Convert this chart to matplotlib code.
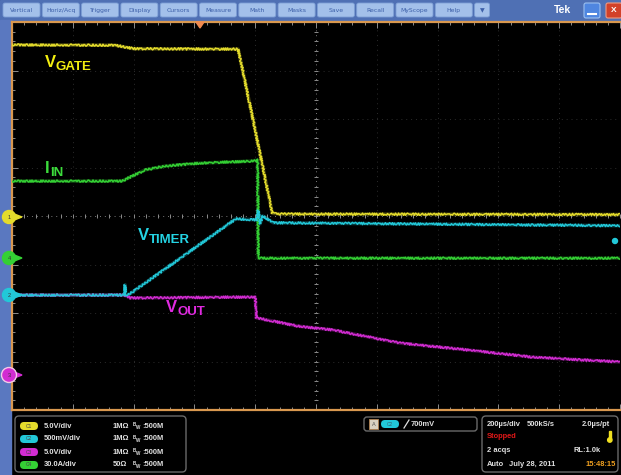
import numpy as np
import matplotlib
matplotlib.use("Agg")
import matplotlib.pyplot as plt
from matplotlib.patches import Rectangle, FancyBboxPatch, Circle, Polygon

# traces: time in divisions (200 us/div), level in divisions from screen centre
gate_t = [0.0, 1.7, 2.0, 3.72, 4.0, 4.28, 4.4, 10.0]
gate_v = [3.53, 3.52, 3.45, 3.44, 1.77, 0.06, 0.04, 0.03]

iin_t = [0.0, 1.81, 1.94, 2.19, 2.52, 3.09, 3.91, 4.04, 4.05, 10.0]
iin_v = [0.72, 0.72, 0.80, 0.95, 1.03, 1.09, 1.13, 1.15, -0.87, -0.87]

timer_t = [0.0, 1.85, 1.86, 1.87, 1.91, 3.68, 4.03, 4.05, 4.08, 4.12, 4.3, 10.0]
timer_v = [-1.63, -1.63, -1.42, -1.63, -1.63, -0.06, -0.08, 0.12, -0.16, 0.0, -0.14, -0.2]

vout_t = [0.0, 1.85, 1.95, 4.0, 4.02, 4.7, 5.28, 6.38, 7.48, 8.56, 10.0]
vout_v = [-1.63, -1.63, -1.69, -1.67, -2.10, -2.27, -2.35, -2.62, -2.76, -2.91, -3.01]

# channel readout
ch_names = ["C1", "C2", "C3", "C4"]
ch_scale = ["5.0V/div", "500mV/div", "5.0V/div", "30.0A/div"]
ch_imp = ["1MΩ", "1MΩ", "1MΩ", "50Ω"]
ch_bw = "500M"
menu = ["Vertical", "Horiz/Acq", "Trigger", "Display", "Cursors", "Measure",
        "Math", "Masks", "Save", "Recall", "MyScope", "Help", "▼"]

YEL, CYN, MAG, GRN = "#e4dc2c", "#22c8d8", "#d22cd2", "#34d034"
ORANGE = "#d9984f"
FONT = "Liberation Sans"

fig = plt.figure(figsize=(6.21, 4.75), dpi=100, facecolor="black")

# background chrome, pixel coordinates
bg = fig.add_axes([0, 0, 1, 1], zorder=0)
bg.set_xlim(0, 621)
bg.set_ylim(475, 0)
bg.axis("off")
bg.set_facecolor("black")
bg.add_patch(Rectangle((0, 0), 621, 20, color="#4f70b4"))
bg.add_patch(Rectangle((0, 20), 11, 455, color="#5a78c0"))

# scope graticule, divisions
ax = fig.add_axes([12 / 621, 65 / 475, 608 / 621, 388 / 475], zorder=2)
ax.set_facecolor("black")
ax.set_xlim(0, 10)
ax.set_ylim(-4, 4)
for s in ["top", "left", "bottom"]:
    ax.spines[s].set_color(ORANGE)
    ax.spines[s].set_linewidth(1.6)
ax.spines["right"].set_visible(False)
ax.set_xticks(np.arange(0, 10.01, 1))
ax.set_xticks(np.arange(0, 10.01, 0.2), minor=True)
ax.set_yticks(np.arange(-4, 4.01, 1))
ax.set_yticks(np.arange(-4, 4.01, 0.2), minor=True)
ax.tick_params(which="both", direction="in", top=True, bottom=True, left=True,
               right=False, labelbottom=False, labelleft=False,
               color="#8c8c8c", width=0.7)
ax.tick_params(which="major", length=4.5)
ax.tick_params(which="minor", length=2.2)

for k in range(1, 10):
    ax.axvline(k, color="#2c2c2c" if k != 5 else "#7a7a7a", lw=0.7,
               ls=(0, (1, 4)), zorder=1)
for k in range(-3, 4):
    ax.axhline(k, color="#2c2c2c" if k != 0 else "#7a7a7a", lw=0.7,
               ls=(0, (1, 4)), zorder=1)
cx = np.arange(0, 10.01, 0.2)
cy = np.arange(-4, 4.01, 0.2)
ax.plot(cx, np.zeros_like(cx), ls="none", marker="|", ms=3.5, mew=0.7,
        color="#8c8c8c", zorder=1)
ax.plot(np.full_like(cy, 5.0), cy, ls="none", marker="_", ms=3.5, mew=0.7,
        color="#8c8c8c", zorder=1)

for t, v, c in [(vout_t, vout_v, MAG), (iin_t, iin_v, GRN),
                (timer_t, timer_v, CYN), (gate_t, gate_v, YEL)]:
    ax.plot(t, v, color=c, lw=2.6, alpha=0.3, zorder=3, solid_joinstyle="round")
    ln, = ax.plot(t, v, color=c, lw=1.1, zorder=4)
    ln.set_sketch_params(scale=1.1, length=3, randomness=2)

# foreground overlay, pixel coordinates
fg = fig.add_axes([0, 0, 1, 1], zorder=5)
fg.set_xlim(0, 621)
fg.set_ylim(475, 0)
fg.axis("off")
fg.patch.set_alpha(0)

# menu bar
for i, name in enumerate(menu):
    x0 = 3 + 39.3 * i
    w = 37 if name != "▼" else 15
    fg.add_patch(FancyBboxPatch((x0, 3), w, 14, boxstyle="round,pad=0,rounding_size=2",
                                fc="#a3c0ea", ec="#7d9fd6", lw=0.6))
    fg.text(x0 + w / 2, 10.5, name, fontsize=4.4, color="#3c5fa8",
            ha="center", va="center", family=["DejaVu Sans"])
fg.text(563, 10, "Tek", fontsize=7.5, fontweight="bold", color="white",
        ha="center", va="center", family=FONT)
fg.add_patch(FancyBboxPatch((584, 3), 16, 15, boxstyle="round,pad=0,rounding_size=2",
                            fc="#4f86e0", ec="#9cc0f0", lw=0.8))
fg.plot([588, 596], [14, 14], color="white", lw=1.5)
fg.add_patch(FancyBboxPatch((606, 3), 16, 15, boxstyle="round,pad=0,rounding_size=2",
                            fc="#d2412a", ec="#f09a80", lw=0.8))
fg.text(614, 11, "X", fontsize=6, fontweight="bold", color="white",
        ha="center", va="center", family=FONT)

# trigger position marker
fg.add_patch(Polygon([[196, 22], [204, 22], [200, 28]], color="#f08a50"))

# channel ground markers
for y, c, n in [(217, YEL, "1"), (258, GRN, "4"), (295, CYN, "2"), (375, MAG, "3")]:
    r = 7.5 if c == MAG else 6.5
    fg.add_patch(Polygon([[13, y - 3.5], [13, y + 3.5], [22, y]], color=c))
    fg.add_patch(Circle((9, y), r, fc=c, ec="#f4c8e8" if c == MAG else c, lw=1.0))
    fg.text(9, y + 0.5, n, fontsize=4, color="#333333", ha="center", va="center",
            family=FONT)
fg.add_patch(Circle((615, 241), 2.5, color=CYN))

# trace labels
for x, y, big, sub, c in [(45, 67, "V", "GATE", "#f2ee10"), (45, 173, "I", "IN", "#3cdc3c"),
                          (138, 240, "V", "TIMER", "#24d4e4"), (166, 312, "V", "OUT", "#e02ae0")]:
    fg.text(x, y, big, fontsize=12, fontweight="bold", color=c, family=FONT,
            va="baseline")
    sx = x + (11 if big == "V" else 5)
    fg.text(sx, y + 3, sub, fontsize=9.5, fontweight="bold", color=c, family=FONT,
            va="baseline")

# channel readout panel
tk = dict(fontsize=5.4, color="#e0e0e0", fontweight="bold", va="center", family=FONT)
fg.add_patch(FancyBboxPatch((15, 416), 171, 56, boxstyle="round,pad=0,rounding_size=4",
                            fc="black", ec="#6a6a6a", lw=1.0))
for i, (nm, sc, imp) in enumerate(zip(ch_names, ch_scale, ch_imp)):
    y = 426 + 13 * i
    c = [YEL, CYN, MAG, GRN][i]
    fg.add_patch(FancyBboxPatch((20, y - 4), 18, 8, boxstyle="round,pad=0,rounding_size=4",
                                fc=c, ec="none"))
    fg.text(29, y, nm, fontsize=3.5, color="#444444", ha="center", va="center", family=FONT)
    fg.text(44, y, sc, **tk)
    fg.text(113, y, imp, **tk)
    fg.text(133, y - 1.5, "B", fontsize=3.3, color="#e0e0e0", fontweight="bold", va="center", family=FONT)
    fg.text(136, y + 1.5, "W", fontsize=3.3, color="#e0e0e0", fontweight="bold", va="center", family=FONT)
    fg.text(142, y, ":" + ch_bw, **tk)

# trigger readout
fg.add_patch(FancyBboxPatch((364, 417), 113, 14, boxstyle="round,pad=0,rounding_size=3",
                            fc="black", ec="#6a6a6a", lw=1.0))
fg.add_patch(Rectangle((369, 419), 9, 10, fc="#d8d0c0", ec="#b08050", lw=0.6))
fg.text(373.5, 424.5, "A", fontsize=4, color="#555555", ha="center", va="center", family=FONT)
fg.add_patch(FancyBboxPatch((381, 420), 18, 8, boxstyle="round,pad=0,rounding_size=4",
                            fc=CYN, ec="none"))
fg.text(390, 424, "C2", fontsize=3.5, color="#336677", ha="center", va="center", family=FONT)
fg.plot([404, 409], [428, 420], color="#e0e0e0", lw=0.9)
fg.text(411, 424, "700mV", **tk)

# acquisition readout
fg.add_patch(FancyBboxPatch((482, 416), 136, 56, boxstyle="round,pad=0,rounding_size=4",
                            fc="black", ec="#6a6a6a", lw=1.0))
fg.text(487, 424, "200µs/div", **tk)
fg.text(527, 424, "500kS/s", **tk)
fg.text(582, 424, "2.0µs/pt", **tk)
fg.text(487, 437, "Stopped", **{**tk, "color": "#e01818"})
fg.add_patch(Rectangle((608.5, 431), 2.5, 8, color="#f0e020"))
fg.add_patch(Circle((609.8, 440), 2.2, color="#f0e020"))
fg.text(487, 451, "2 acqs", **tk)
fg.text(574, 451, "RL:1.0k", **tk)
fg.text(487, 464, "Auto", **tk)
fg.text(509, 464, "July 28, 2011", **tk)
fg.text(586, 464, "15:48:15", **{**tk, "color": "#f0a020"})

fig.savefig("out.png", dpi=100, facecolor=fig.get_facecolor())
